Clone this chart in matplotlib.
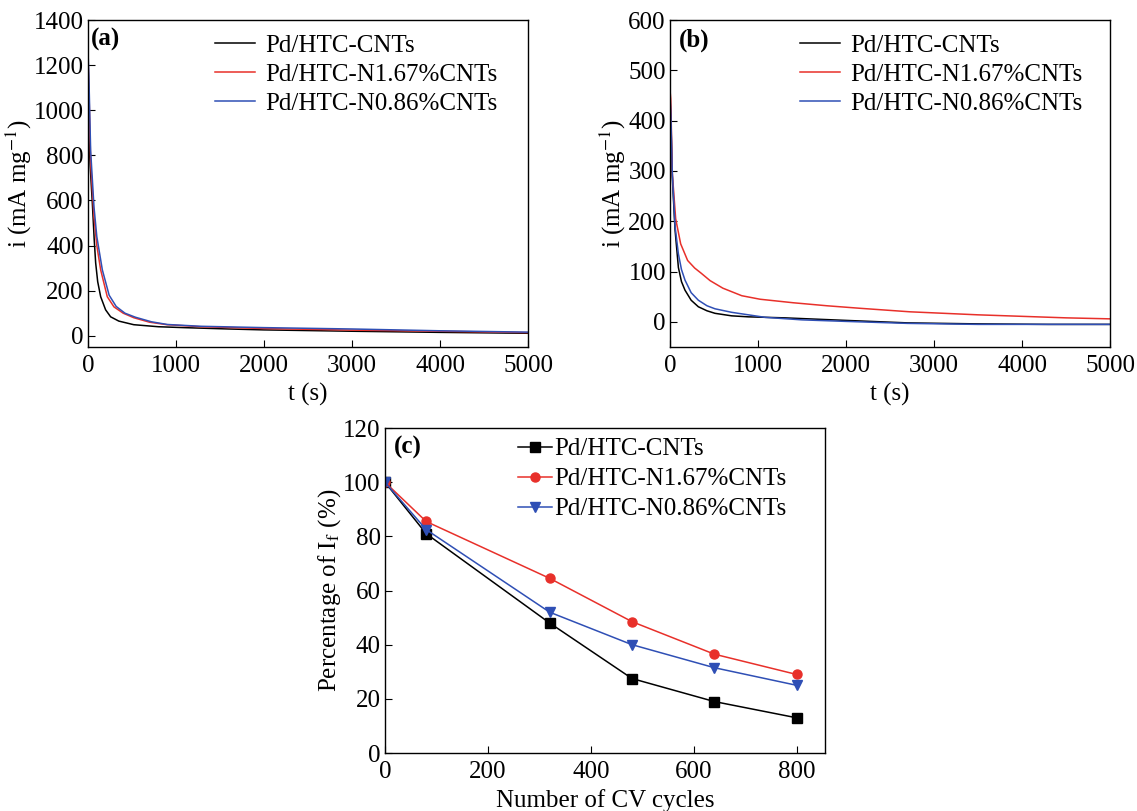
import matplotlib
matplotlib.use("Agg")
import matplotlib.pyplot as plt

plt.rcParams['font.family'] = ['Liberation Serif', 'DejaVu Serif']
plt.rcParams['mathtext.fontset'] = 'stix'
plt.rcParams['font.size'] = 18

names = ['Pd/HTC-CNTs', 'Pd/HTC-N1.67%CNTs', 'Pd/HTC-N0.86%CNTs']
colors = ['black', '#e8302a', '#2f4fb5']

# (a) chronoamperometry, values
ta_black = [0, 10, 25, 49, 70, 87, 110, 144, 200, 257, 350, 520, 800, 1090, 1600, 2000, 3000, 4000, 5000]
ia_black = [950, 880, 750, 590, 430, 323, 240, 173, 115, 84, 65, 49, 40, 36, 30, 26, 20, 15, 11]
ta_red = [0, 10, 30, 68, 100, 144, 219, 295, 400, 520, 700, 898, 1280, 2000, 3000, 4000, 5000]
ia_red = [1245, 1100, 767, 527, 400, 292, 173, 128, 100, 80, 60, 49, 40, 32, 25, 20, 14]
ta_blue = [0, 10, 30, 68, 100, 163, 240, 320, 420, 540, 720, 900, 1280, 2000, 3000, 4000, 5000]
ia_blue = [1260, 1150, 820, 571, 440, 292, 180, 130, 100, 82, 62, 50, 42, 36, 30, 22, 16]

# (b)
tb_black = [0, 10, 25, 57, 95, 130, 170, 240, 322, 420, 511, 700, 890, 1300, 1989, 2700, 3500, 4300, 5000]
ib_black = [445, 400, 290, 183, 108, 80, 63, 43, 30, 22, 17, 12, 10, 8, 3, -2, -4, -5, -5]
tb_red = [0, 8, 26, 64, 121, 200, 280, 352, 455, 600, 815, 1023, 1400, 1784, 2159, 2727, 3500, 4000, 4500, 5000]
ib_red = [460, 443, 295, 205, 155, 122, 107, 97, 82, 67, 52, 45, 38, 32, 27, 20, 14, 11, 8, 6]
tb_blue = [0, 10, 25, 57, 95, 130, 170, 240, 322, 420, 511, 700, 1080, 1500, 1989, 2700, 3500, 4300, 5000]
ib_blue = [450, 410, 300, 190, 135, 104, 83, 58, 43, 32, 26, 19, 9, 4, 1, -3, -5, -5, -5]

# (c) retention vs CV cycles
cycles = [0, 80, 320, 480, 640, 800]
pc_black = [100, 81, 48, 27.5, 19, 13]
pc_red = [100, 85.5, 64.5, 48.5, 36.5, 29]
pc_blue = [100, 82.5, 52, 40, 31.5, 25]

fig = plt.figure(figsize=(11.37, 8.11), dpi=100)
axa = fig.add_axes([0.0774, 0.5721, 0.387, 0.4032])
axb = fig.add_axes([0.5893, 0.5721, 0.387, 0.4032])
axc = fig.add_axes([0.3386, 0.0715, 0.387, 0.4007])

panels = [
    (axa, [(ta_black, ia_black), (ta_red, ia_red), (ta_blue, ia_blue)], 0.289),
    (axb, [(tb_black, ib_black), (tb_red, ib_red), (tb_blue, ib_blue)], 0.295),
]
for ax, series, lx in panels:
    for (t, y), c, n in zip(series, colors, names):
        ax.plot(t, y, color=c, lw=1.1, label=n)
    ax.set_xlim(0, 5000)
    ax.set_xticks([0, 1000, 2000, 3000, 4000, 5000])
    ax.set_xlabel('t (s)', labelpad=4)
    ax.set_ylabel('i (mA mg$^{-1}$)', labelpad=0)
    ax.legend(loc='upper left', frameon=False, fontsize=18, handlelength=1.6,
              handletextpad=0.4, labelspacing=0.27, borderaxespad=0, borderpad=0,
              bbox_to_anchor=(lx, 0.957))

axa.set_ylim(-50, 1400)
axa.set_yticks(range(0, 1401, 200))
axb.set_ylim(-50, 600)
axb.set_yticks(range(0, 601, 100))
axa.text(0.006, 0.975, '(a)', transform=axa.transAxes, fontweight='bold', va='top', fontsize=18)
axb.text(0.02, 0.975, '(b)', transform=axb.transAxes, fontweight='bold', va='top', fontsize=18)

markers = ['s', 'o', 'v']
for y, c, m, n in zip([pc_black, pc_red, pc_blue], colors, markers, names):
    axc.plot(cycles, y, color=c, marker=m, ms=6.5, lw=1.1, label=n)
axc.set_xlim(0, 855)
axc.set_ylim(0, 120)
axc.set_xticks(range(0, 801, 200))
axc.set_yticks(range(0, 121, 20))
axc.set_xlabel('Number of CV cycles', labelpad=4)
axc.set_ylabel('Percentage of I$_\\mathrm{f}$ (%)', labelpad=0)
axc.legend(loc='upper left', frameon=False, fontsize=18, handlelength=1.36,
           handletextpad=0.1, labelspacing=0.3, borderaxespad=0, borderpad=0,
           bbox_to_anchor=(0.302, 0.97))
axc.text(0.02, 0.975, '(c)', transform=axc.transAxes, fontweight='bold', va='top', fontsize=18)

for ax in (axa, axb, axc):
    ax.tick_params(direction='in', length=5, labelsize=18, top=False, right=False, pad=3)
    ax.tick_params(axis='x', pad=6)
    for s in ax.spines.values():
        s.set_linewidth(1.0)

fig.savefig('out.png', dpi=100)
